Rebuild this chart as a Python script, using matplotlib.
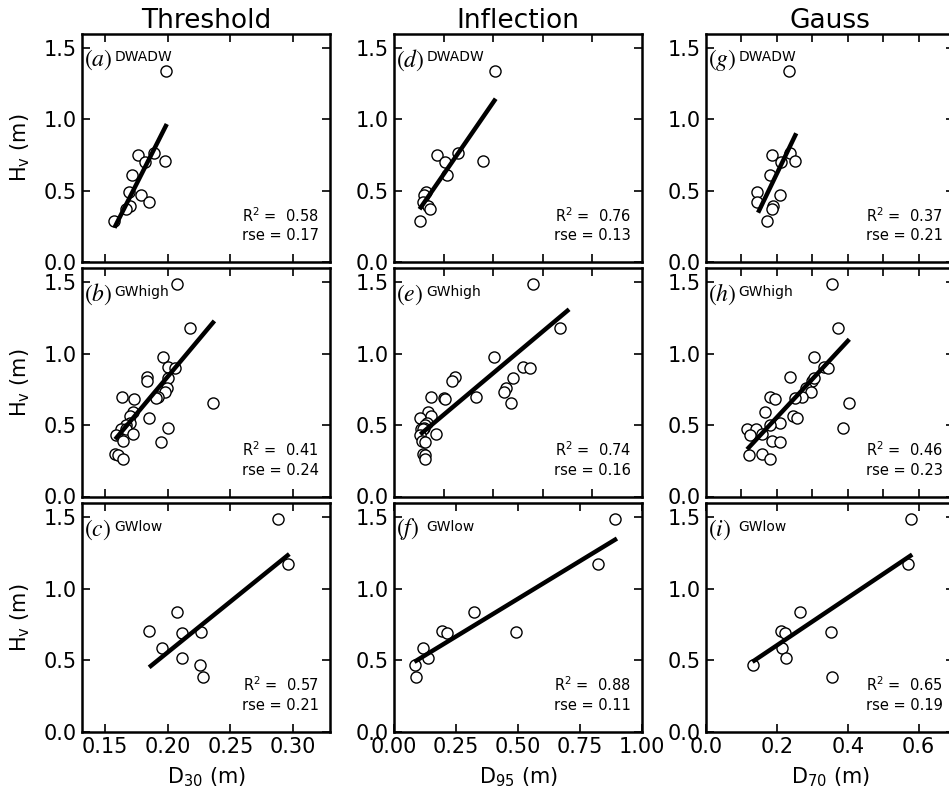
import numpy as np
import matplotlib
matplotlib.use("Agg")
import matplotlib.pyplot as plt

plt.rcParams["font.family"] = ["DejaVu Sans"]
plt.rcParams["mathtext.fontset"] = "dejavusans"

# ---------------- data ----------------
methods = ["Threshold", "Inflection", "Gauss"]
xlabels = [r"D$_{30}$ (m)", r"D$_{95}$ (m)", r"D$_{70}$ (m)"]
groups = ["DWADW", "GWhigh", "GWlow"]
letters = [["a", "d", "g"], ["b", "e", "h"], ["c", "f", "i"]]

# DWADW
hv_dwadw = [1.34, 0.76, 0.75, 0.71, 0.70, 0.61, 0.49, 0.47, 0.42, 0.39, 0.37, 0.29]
d30_dwadw = [0.1987, 0.1886, 0.1766, 0.1979, 0.1819, 0.1718, 0.1694, 0.1785, 0.1846, 0.1700, 0.1665, 0.1574]
d95_dwadw = [0.406, 0.259, 0.175, 0.359, 0.206, 0.213, 0.129, 0.122, 0.115, 0.139, 0.146, 0.106]
d70_dwadw = [0.233, 0.236, 0.187, 0.252, 0.213, 0.180, 0.145, 0.208, 0.144, 0.189, 0.185, 0.173]

# GWhigh
hv_gwhigh = [1.49, 1.18, 0.98, 0.91, 0.90, 0.84, 0.81, 0.83, 0.76, 0.73,
             0.70, 0.69, 0.70, 0.685, 0.655, 0.59, 0.565, 0.55, 0.515, 0.50,
             0.48, 0.47, 0.47, 0.44, 0.43, 0.39, 0.38, 0.30, 0.29, 0.26]
d30_gwhigh = [0.207, 0.218, 0.1965, 0.2005, 0.206, 0.183, 0.1833, 0.2005, 0.1997, 0.198,
              0.1925, 0.1907, 0.1633, 0.1734, 0.2364, 0.1726, 0.170, 0.1853, 0.170, 0.167,
              0.2005, 0.163, 0.167, 0.1726, 0.1588, 0.1646, 0.1944, 0.158, 0.160, 0.1646]
d95_gwhigh = [0.562, 0.669, 0.405, 0.519, 0.550, 0.246, 0.235, 0.481, 0.453, 0.443,
              0.329, 0.202, 0.149, 0.206, 0.471, 0.139, 0.149, 0.103, 0.133, 0.125,
              0.119, 0.110, 0.115, 0.170, 0.103, 0.113, 0.123, 0.117, 0.125, 0.123]
d70_gwhigh = [0.355, 0.372, 0.304, 0.334, 0.344, 0.236, 0.300, 0.306, 0.281, 0.297,
              0.272, 0.250, 0.180, 0.194, 0.403, 0.166, 0.245, 0.256, 0.210, 0.180,
              0.386, 0.116, 0.142, 0.158, 0.125, 0.187, 0.208, 0.159, 0.122, 0.180]

# GWlow
hv_gwlow = [1.49, 1.176, 0.836, 0.706, 0.690, 0.695, 0.582, 0.512, 0.465, 0.385]
d30_gwlow = [0.2883, 0.2963, 0.2072, 0.1853, 0.2117, 0.2263, 0.1957, 0.2117, 0.2258, 0.2284]
d95_gwlow = [0.893, 0.823, 0.322, 0.195, 0.213, 0.490, 0.117, 0.139, 0.083, 0.090]
d70_gwlow = [0.580, 0.571, 0.264, 0.213, 0.222, 0.353, 0.215, 0.227, 0.133, 0.356]

hv = [hv_dwadw, hv_gwhigh, hv_gwlow]
dx = [[d30_dwadw, d95_dwadw, d70_dwadw],
      [d30_gwhigh, d95_gwhigh, d70_gwhigh],
      [d30_gwlow, d95_gwlow, d70_gwlow]]

# linear fits: Hv = slope * D + intercept over [fit_lo, fit_hi]
fit_slope = [[17.37, 2.52, 5.16], [10.47, 1.46, 2.672], [7.09, 1.057, 1.665]]
fit_intercept = [[-2.494, 0.110, -0.413], [-1.254, 0.280, 0.020], [-0.863, 0.401, 0.270]]
fit_lo = [[0.1574, 0.103, 0.147], [0.158, 0.106, 0.116], [0.1851, 0.082, 0.131]]
fit_hi = [[0.1992, 0.410, 0.2547], [0.2372, 0.706, 0.4045], [0.297, 0.899, 0.582]]

r2 = [[0.58, 0.76, 0.37], [0.41, 0.74, 0.46], [0.57, 0.88, 0.65]]
rse = [[0.17, 0.13, 0.21], [0.24, 0.16, 0.23], [0.21, 0.11, 0.19]]

# ---------------- layout ----------------
W, H = 949, 793
fig = plt.figure(figsize=(W / 100, H / 100), dpi=100)

col_left = [82, 394, 706]
ax_w = 248
row_top = [33.5, 268, 503]
ax_h = 228.5

xlims = [(0.1315, 0.3295), (0.0, 1.0), (0.0, 0.7)]
xticks_upper = [[0.15, 0.20, 0.25, 0.30], [0.2, 0.4, 0.6, 0.8], [0.1, 0.2, 0.3, 0.4, 0.5, 0.6]]
xticks_lower = [[0.15, 0.20, 0.25, 0.30], [0.0, 0.25, 0.5, 0.75, 1.0], [0.0, 0.2, 0.4, 0.6]]
xticklabels_lower = [["0.15", "0.20", "0.25", "0.30"],
                     ["0.00", "0.25", "0.50", "0.75", "1.00"],
                     ["0.0", "0.2", "0.4", "0.6"]]

for r in range(3):
    for c in range(3):
        ax = fig.add_axes([col_left[c] / W, 1 - (row_top[r] + ax_h) / H, ax_w / W, ax_h / H])
        x = np.asarray(dx[r][c])
        y = np.asarray(hv[r])
        ax.plot(x, y, "o", ms=8, mfc="white", mec="black", mew=1.0, zorder=2)
        xl = np.array([fit_lo[r][c], fit_hi[r][c]])
        ax.plot(xl, fit_slope[r][c] * xl + fit_intercept[r][c], color="black", lw=3.2,
                solid_capstyle="butt", zorder=3)

        ax.set_xlim(*xlims[c])
        ax.set_ylim(0, 1.6)
        ax.set_yticks([0.0, 0.5, 1.0, 1.5])
        if r < 2:
            ax.set_xticks(xticks_upper[c])
            ax.tick_params(axis="x", labelbottom=False)
        else:
            ax.set_xticks(xticks_lower[c])
            ax.set_xticklabels(xticklabels_lower[c])
            ax.set_xlabel(xlabels[c], fontsize=15, labelpad=6)
        ax.tick_params(direction="in", top=True, right=True, length=6, width=1.2,
                       labelsize=15, pad=4)
        for s in ax.spines.values():
            s.set_linewidth(1.8)

        if c == 0:
            ax.set_ylabel(r"H$_\mathrm{v}$ (m)", fontsize=15, labelpad=8)
        if r == 0:
            ax.set_title(methods[c], fontsize=19, pad=3)

        ax.text(0.008, 0.885, r"$(%s)$" % letters[r][c], transform=ax.transAxes,
                fontsize=17, math_fontfamily="stix", ha="left", va="center")
        ax.text(0.13, 0.895, groups[r], transform=ax.transAxes,
                fontsize=10, ha="left", va="center")

        ax.text(0.955, 0.205, r"R$^2$ =  %.2f" % r2[r][c], transform=ax.transAxes,
                fontsize=10.5, ha="right", va="center")
        ax.text(0.955, 0.115, "rse = %.2f" % rse[r][c], transform=ax.transAxes,
                fontsize=10.5, ha="right", va="center")

fig.savefig("out.png", dpi=100)
